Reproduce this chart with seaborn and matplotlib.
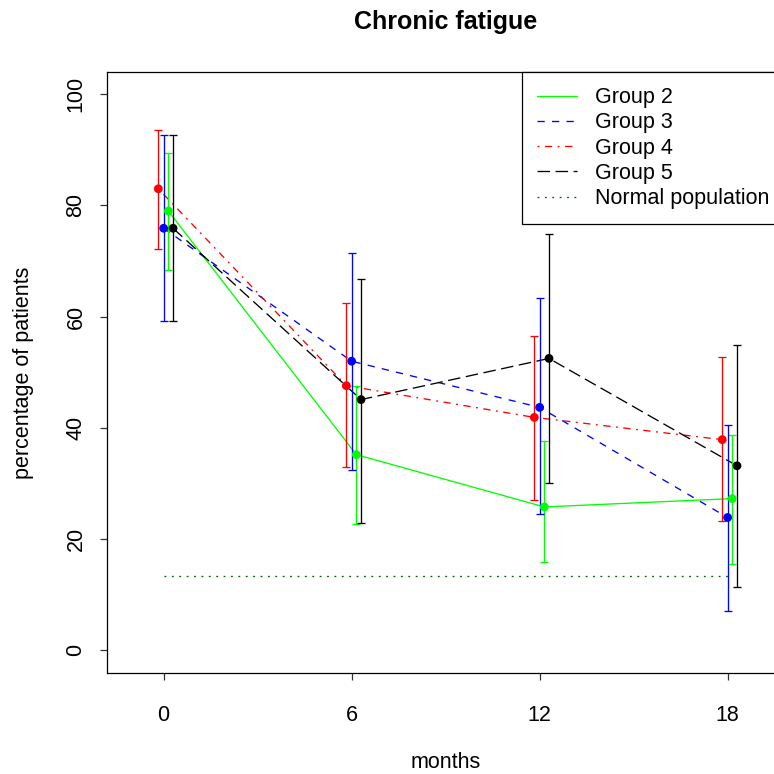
import numpy as np
import pandas as pd
import matplotlib
matplotlib.use("Agg")
import matplotlib.pyplot as plt
from matplotlib.lines import Line2D
import seaborn as sns

# Follow-up time points (months)
months = [0, 6, 12, 18]

groups = ["Group 2", "Group 3", "Group 4", "Group 5"]

# Percentage of patients with chronic fatigue, with lower/upper confidence limits
g2_pct = [79.0, 35.2, 25.8, 27.3]
g2_lo = [68.4, 22.7, 15.9, 15.5]
g2_hi = [89.5, 47.5, 37.6, 38.8]

g3_pct = [75.9, 52.0, 43.7, 23.9]
g3_lo = [59.2, 32.4, 24.6, 7.1]
g3_hi = [92.6, 71.5, 63.4, 40.6]

g4_pct = [83.0, 47.6, 41.9, 37.9]
g4_lo = [72.2, 33.0, 27.1, 23.3]
g4_hi = [93.5, 62.5, 56.5, 52.8]

g5_pct = [75.9, 45.1, 52.5, 33.2]
g5_lo = [59.2, 23.0, 30.1, 11.4]
g5_hi = [92.6, 66.8, 74.8, 54.9]

# Reference level in the normal population
normal_label = "Normal population"
normal_pct = 13.4
normal_months = [0, 18]

pct = [g2_pct, g3_pct, g4_pct, g5_pct]
lo = [g2_lo, g3_lo, g4_lo, g5_lo]
hi = [g2_hi, g3_hi, g4_hi, g5_hi]

# Styling: colours, dash patterns and small horizontal dodge per group
colors = {"Group 2": "#00FF00", "Group 3": "#0000FF", "Group 4": "#FF0000", "Group 5": "#000000"}
dashes = {"Group 2": "", "Group 3": (5.5, 5.5), "Group 4": (1.4, 4.2, 5.5, 4.2), "Group 5": (9.5, 4.2)}
dodge = {"Group 2": 0.15, "Group 3": 0.0, "Group 4": -0.17, "Group 5": 0.3}
normal_color = "#006400"
normal_dash = (1.4, 4.2)

sns.set_style("white")
plt.rcParams["font.family"] = ["Liberation Sans", "DejaVu Sans"]
plt.rcParams["axes.edgecolor"] = "black"
plt.rcParams["axes.linewidth"] = 0.9
plt.rcParams["text.color"] = "black"
plt.rcParams["axes.labelcolor"] = "black"
plt.rcParams["savefig.bbox"] = "standard"

rows = []
for g, p, l, h in zip(groups, pct, lo, hi):
    for m, v, a, b in zip(months, p, l, h):
        rows.append({"group": g, "month": m, "x": m + dodge[g], "pct": v, "lo": a, "hi": b})
df = pd.DataFrame(rows)
df_norm = pd.DataFrame({"month": normal_months, "pct": [normal_pct] * len(normal_months)})

fig = plt.figure(figsize=(7.74, 7.74), dpi=100)
# The plotting region runs past the right edge of the canvas
ax = fig.add_axes([0.1386, 0.1309, 0.8743, 0.7761])

lw = 0.95
fs = 15.5

# Normal population reference line
sns.lineplot(data=df_norm, x="month", y="pct", color=normal_color, linewidth=lw,
             dashes=False, ax=ax, legend=False)
ax.lines[-1].set_dashes(normal_dash)

# Group trajectories
sns.lineplot(data=df, x="x", y="pct", hue="group", style="group", palette=colors,
             dashes=dashes, estimator=None, sort=False, linewidth=lw, ax=ax, legend=False)

# Confidence intervals
for g in groups:
    sub = df[df["group"] == g]
    ax.errorbar(sub["x"], sub["pct"],
                yerr=[sub["pct"] - sub["lo"], sub["hi"] - sub["pct"]],
                fmt="none", ecolor=colors[g], elinewidth=lw, capsize=2.8, capthick=lw)

# Point estimates
sns.scatterplot(data=df, x="x", y="pct", hue="group", palette=colors, s=40,
                edgecolor="none", linewidth=0, ax=ax, legend=False, zorder=5)

ax.set_xlim(-1.8, 19.8)
ax.set_ylim(-4, 104)
ax.set_xticks(months)
ax.set_xticklabels([str(m) for m in months])
ax.set_yticks([0, 20, 40, 60, 80, 100])
ax.set_yticklabels(["0", "20", "40", "60", "80", "100"], rotation=90, va="center")
ax.tick_params(axis="both", direction="out", length=5, width=0.9, color="#333333",
               labelsize=fs, labelcolor="black")
ax.tick_params(axis="x", pad=18)
ax.tick_params(axis="y", pad=10)
ax.tick_params(bottom=True, left=True)

ax.set_xlabel("months", fontsize=fs, va="center")
ax.xaxis.set_label_coords(0.5, -0.1487)
ax.set_ylabel("percentage of patients", fontsize=fs, va="center")
ax.yaxis.set_label_coords(-0.124, 0.5)
ax.set_title("Chronic fatigue", fontsize=18, fontweight="bold", y=1.083, va="center",
             pad=0, color="black")

handles = [Line2D([0], [0], color=colors["Group 2"], linewidth=lw, linestyle="-")]
for g in groups[1:]:
    handles.append(Line2D([0], [0], color=colors[g], linewidth=lw, dashes=dashes[g]))
handles.append(Line2D([0], [0], color=normal_color, linewidth=lw, dashes=normal_dash))
leg = ax.legend(handles, groups + [normal_label], loc="upper right", bbox_to_anchor=(1, 1),
                borderaxespad=0, fancybox=False, framealpha=1, edgecolor="black",
                fontsize=fs, handlelength=1.86, handletextpad=0.8, labelspacing=0.2,
                borderpad=0.7)
leg.get_frame().set_linewidth(0.9)

fig.savefig("out.png", dpi=100)
